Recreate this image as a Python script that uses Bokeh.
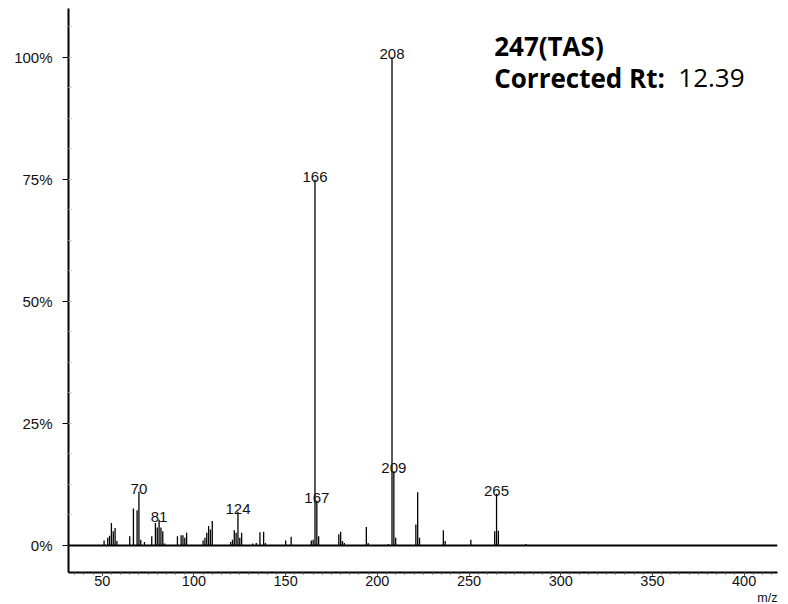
from bokeh.plotting import figure
from bokeh.models import Range1d, FixedTicker, Span, Label, Title, ColumnDataSource
from bokeh.core.properties import value
from bokeh.embed import file_html
from bokeh.resources import INLINE

# ---- data ----
mz_values = [51, 53, 54, 55, 56, 57, 58,
             65, 67, 69, 70, 71, 73, 77,
             79, 80, 81, 82, 83, 84,
             91, 93, 94, 95, 96,
             105, 106, 107, 108, 109, 110,
             120, 121, 122, 123, 124, 125, 126,
             132, 134, 136, 138, 139,
             150, 153,
             164, 165, 166, 167, 168,
             179, 180, 181, 182,
             194, 195,
             206, 208, 209, 210,
             221, 222, 223,
             236, 237,
             251,
             264, 265, 266,
             281]
intensity = [1.0, 1.6, 2.0, 4.6, 2.9, 3.6, 0.9,
             1.9, 7.6, 7.2, 11.0, 1.2, 0.7, 1.9,
             4.6, 3.7, 5.3, 3.7, 2.9, 0.4,
             1.9, 2.1, 2.1, 1.6, 2.6,
             1.0, 1.6, 2.6, 4.0, 3.3, 5.0,
             0.7, 1.2, 3.1, 2.6, 6.9, 1.6, 2.6,
             0.4, 0.5, 2.7, 2.8, 0.5,
             1.0, 1.8,
             1.0, 1.2, 74.9, 9.2, 1.9,
             2.3, 2.8, 0.9, 0.5,
             3.8, 0.5,
             0.3, 100.0, 15.2, 1.6,
             4.3, 10.9, 1.6,
             3.1, 0.9,
             1.2,
             2.9, 10.6, 3.0,
             0.3]
labeled_mz = [70, 81, 124, 166, 167, 208, 209, 265]

x_ticks = [50, 100, 150, 200, 250, 300, 350, 400]
x_minor_ticks = list(range(35, 420, 5))
y_ticks = [0, 25, 50, 75, 100]
y_tick_labels = ["0%", "25%", "50%", "75%", "100%"]
y_minor_ticks = [i * 6.25 for i in range(0, 18)]

title_text = "247(TAS)"
rt_label = "Corrected Rt:"
rt_value = "12.39"
x_unit = "m/z"

# ---- figure ----
p = figure(width=780, height=604,
           x_range=Range1d(31.6, 418.2), y_range=Range1d(-5.53, 110.0),
           output_backend="svg", toolbar_location=None,
           min_border_left=68, min_border_right=3,
           min_border_top=8, min_border_bottom=31)
p.grid.visible = False
p.outline_line_color = None
p.background_fill_color = "white"
p.border_fill_color = "white"

# x axis
xa = p.xaxis[0]
xa.ticker = FixedTicker(ticks=x_ticks, minor_ticks=x_minor_ticks)
xa.axis_line_width = 2
xa.axis_line_color = "black"
xa.major_tick_out = 3
xa.major_tick_in = 0
xa.major_tick_line_color = "black"
xa.minor_tick_out = 2
xa.minor_tick_in = 0
xa.minor_tick_line_color = "#555555"
xa.major_label_standoff = 0
xa.major_label_text_font = "Liberation Sans"
xa.major_label_text_font_size = "14.5px"
xa.major_label_text_color = "#111111"

# y axis
ya = p.yaxis[0]
ya.ticker = FixedTicker(ticks=y_ticks, minor_ticks=y_minor_ticks)
ya.major_label_overrides = {t: l for t, l in zip(y_ticks, y_tick_labels)}
ya.axis_line_width = 2
ya.axis_line_color = "black"
ya.major_tick_out = 6
ya.major_tick_in = 0
ya.major_tick_line_color = "black"
ya.minor_tick_out = 0
ya.minor_tick_in = 3
ya.minor_tick_line_color = "#bbbbbb"
ya.major_label_standoff = 10
ya.major_label_text_font = "Liberation Sans"
ya.major_label_text_font_size = "15px"
ya.major_label_text_color = "#111111"

# zero baseline
p.add_layout(Span(location=0, dimension="width", line_color="black", line_width=2))

# peaks
src = ColumnDataSource(dict(mz=mz_values, inten=intensity, zero=[0] * len(mz_values)))
p.segment(x0="mz", y0="zero", x1="mz", y1="inten", source=src,
          line_color="black", line_width=1.3)

# peak labels
lookup = dict(zip(mz_values, intensity))
lab_src = ColumnDataSource(dict(x=labeled_mz,
                                y=[lookup[m] for m in labeled_mz],
                                t=[str(m) for m in labeled_mz]))
p.text(x="x", y="y", text="t", source=lab_src,
       text_align="center", text_baseline="bottom", y_offset=2,
       text_font=value("Liberation Sans"), text_font_size="15px",
       text_color="#111111")

# annotation text
p.add_layout(Label(x=263.7, y=102.4, text=title_text,
                   text_font="Open Sans", text_font_style="bold",
                   text_font_size="26px", text_baseline="alphabetic",
                   text_color="black"))
p.add_layout(Label(x=263.7, y=95.7, text=rt_label,
                   text_font="Open Sans", text_font_style="bold",
                   text_font_size="26px", text_baseline="alphabetic",
                   text_color="black"))
p.add_layout(Label(x=364.1, y=95.7, text=rt_value,
                   text_font="Open Sans", text_font_style="normal",
                   text_font_size="26px", text_baseline="alphabetic",
                   text_color="black"))

# m/z unit label under the right end of the x axis
p.add_layout(Title(text=x_unit, align="right", standoff=0, offset=0,
                   text_font="Liberation Sans", text_font_size="12.5px",
                   text_font_style="normal", text_color="#111111"), "below")

open("out.html", "w").write(file_html(p, INLINE))
